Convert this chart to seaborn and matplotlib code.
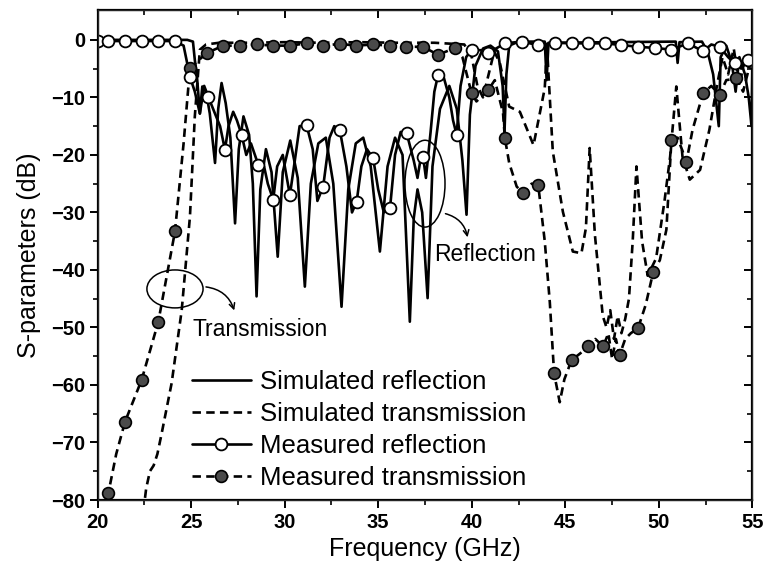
import matplotlib
matplotlib.use("Agg")
import matplotlib.pyplot as plt
from matplotlib.lines import Line2D
from matplotlib.patches import Ellipse
import seaborn as sns
import numpy as np

# ---------------- data ----------------
sim_refl_f = [20.0, 24.8, 25.1, 25.2, 25.3, 25.47, 25.6, 25.8, 26.0, 26.28, 26.45, 26.63, 26.85,
              27.1, 27.35, 27.55, 27.8, 28.1, 28.3, 28.5, 28.7, 29.0, 29.3, 29.63, 29.9, 30.3,
              30.7, 31.08, 31.4, 31.8, 32.2, 32.6, 33.04, 33.4, 33.8, 34.2, 34.6, 35.09, 35.5,
              35.9, 36.3, 36.69, 36.9, 37.1, 37.35, 37.64, 37.9, 38.3, 38.8, 39.2, 39.5, 39.72,
              39.9, 40.2, 40.6, 41.0, 41.4, 41.65, 41.75, 41.85, 42.0, 42.5, 43.9, 44.0, 44.1,
              50.9, 51.0, 51.1, 52.3, 52.6, 52.9, 53.2, 53.3, 53.6, 53.9, 54.1, 54.3, 54.6, 54.8,
              54.95, 55.0]
sim_refl_db = [0.0, 0.0, -0.3, -3.5, -5.8, -12.8, -8.1, -9.0, -12.8, -21.4, -12.0, -7.5, -11.0,
               -17.0, -31.9, -19.0, -13.3, -16.5, -25.0, -44.6, -26.0, -19.0, -23.0, -37.7, -23.0,
               -17.5, -24.0, -42.9, -25.0, -18.0, -17.0, -25.0, -46.4, -26.0, -18.0, -17.0, -22.0,
               -36.8, -22.0, -17.0, -20.0, -49.0, -31.0, -26.0, -30.0, -44.9, -22.0, -12.0, -8.0,
               -12.0, -21.0, -30.4, -13.0, -4.5, -1.5, -1.0, -2.0, -8.0, -16.0, -6.0, -1.0, -0.3,
               -0.3, -7.0, -0.5, -0.3, -4.0, -0.4, -0.3, -2.0, -6.0, -15.0, -3.0, -1.0, -4.0, -9.0,
               -3.0, -6.0, -10.0, -15.0, -4.0]

sim_tran_f = [22.45, 22.6, 22.8, 23.0, 23.2, 23.43, 23.96, 24.5, 24.94, 25.2, 25.47, 25.8, 26.5,
              28.0, 30.0, 32.0, 34.0, 36.0, 38.0, 39.6, 40.0, 40.3, 40.6, 40.9, 41.2, 41.5, 42.0,
              42.57, 43.3, 43.9, 44.02, 44.1, 44.33, 44.87, 45.4, 45.86, 46.1, 46.3, 46.58, 46.84,
              47.0, 47.2, 47.4, 47.6, 47.8, 48.0, 48.2, 48.4, 48.6, 48.8, 49.1, 49.4, 49.85, 50.3,
              50.6, 50.93, 51.26, 51.65, 52.2, 52.7, 53.1, 53.4, 53.7, 54.0, 54.3, 54.6, 55.0]
sim_tran_db = [-82.0, -78.0, -75.0, -74.0, -72.0, -68.4, -59.7, -47.0, -30.7, -13.3, -1.7, -0.8,
               -0.5, -0.5, -0.4, -0.5, -0.4, -0.5, -0.5, -0.8, -3.0, -8.0, -10.0, -6.0, -2.0, -4.0,
               -11.6, -12.5, -18.3, -8.4, -1.0, -6.0, -19.4, -29.9, -36.8, -37.1, -32.7, -18.8,
               -33.9, -42.6, -48.0, -50.0, -47.0, -52.0, -48.0, -51.0, -48.5, -45.0, -35.0, -22.0,
               -35.0, -41.0, -38.0, -28.0, -20.3, -8.1, -20.3, -24.3, -22.6, -15.6, -8.0, -3.0,
               -6.0, -1.5, -8.0, -3.0, -5.0]

meas_refl_f = [20.0, 20.56, 21.47, 22.38, 23.23, 24.14, 24.6, 24.94, 25.2, 25.47, 25.7, 25.92,
               26.3, 26.55, 26.81, 27.0, 27.25, 27.45, 27.7, 27.95, 28.2, 28.59, 28.9, 29.1, 29.39,
               29.6, 29.9, 30.28, 30.5, 30.8, 31.17, 31.5, 31.75, 32.06, 32.4, 32.65, 32.95, 33.3,
               33.6, 33.85, 34.1, 34.4, 34.73, 35.0, 35.3, 35.63, 35.9, 36.2, 36.52, 36.9, 37.1,
               37.25, 37.4, 37.55, 37.8, 38.0, 38.2, 38.5, 38.8, 39.0, 39.19, 39.4, 39.7, 39.99,
               40.5, 40.88, 41.3, 41.77, 42.66, 43.55, 44.44, 45.33, 46.22, 47.11, 48.0, 48.89,
               49.78, 50.67, 51.56, 52.36, 52.8, 53.25, 53.7, 54.05, 54.4, 54.75, 55.0]
meas_refl_db = [-0.2, -0.2, -0.2, -0.2, -0.2, -0.2, -1.0, -6.4, -9.0, -12.8, -8.0, -9.9,
                -13.0, -15.0, -19.1, -15.0, -12.5, -14.0, -16.5, -20.0, -18.0, -21.7, -22.0, -25.0,
                -27.8, -22.0, -20.0, -27.0, -22.0, -15.0, -14.8, -19.0, -28.0, -25.5, -17.0, -15.0,
                -15.7, -22.0, -30.0, -28.1, -22.0, -19.0, -20.6, -26.0, -30.0, -29.3, -20.0, -16.0,
                -16.2, -21.0, -24.0, -21.0, -20.3, -24.0, -16.0, -9.0, -6.1, -6.5, -10.0, -14.0,
                -16.5, -8.0, -3.0, -1.7, -1.8, -2.3, -1.5, -0.6, -0.3, -0.9, -0.5, -0.6, -0.6,
                -0.6, -0.9, -1.2, -1.4, -1.7, -0.6, -2.0, -0.8, -1.2, -3.0, -4.1, -5.0, -3.5, -4.5]
meas_refl_mk_f = [20.0, 20.56, 21.47, 22.38, 23.23, 24.14, 24.94, 25.92, 26.81, 27.7, 28.59,
                  29.39, 30.28, 31.17, 32.06, 32.95, 33.85, 34.73, 35.63, 36.52, 37.4, 38.2,
                  39.19, 39.99, 40.88, 41.77, 42.66, 43.55, 44.44, 45.33, 46.22, 47.11, 48.0,
                  48.89, 49.78, 50.67, 51.56, 52.36, 53.25, 54.05, 54.75]
meas_refl_mk_db = [-0.2, -0.2, -0.2, -0.2, -0.2, -0.2, -6.4, -9.9, -19.1, -16.5, -21.7, -27.8,
                   -27.0, -14.8, -25.5, -15.7, -28.1, -20.6, -29.3, -16.2, -20.3, -6.1, -16.5,
                   -1.7, -2.3, -0.6, -0.3, -0.9, -0.5, -0.6, -0.6, -0.6, -0.9, -1.2, -1.4, -1.7,
                   -0.6, -2.0, -1.2, -4.1, -3.5]

meas_tran_f = [20.45, 20.58, 21.0, 21.47, 22.36, 23.25, 24.14, 24.6, 24.94, 25.83, 26.72, 27.61,
               28.5, 29.39, 30.28, 31.17, 32.06, 32.95, 33.84, 34.73, 35.62, 36.51, 37.4, 38.2,
               39.1, 39.5, 39.99, 40.25, 40.88, 41.23, 41.67, 41.77, 42.0, 42.4, 42.75, 43.2,
               43.55, 43.9, 44.17, 44.4, 44.7, 44.95, 45.33, 45.8, 46.22, 46.6, 47.02, 47.3,
               47.5, 47.7, 47.9, 48.2, 48.5, 48.89, 49.3, 49.7, 50.05, 50.4, 50.67, 51.0, 51.47,
               51.8, 52.36, 52.8, 53.25, 53.6, 54.14, 54.5, 54.9, 55.0]
meas_tran_db = [-82.0, -78.8, -72.0, -66.4, -59.1, -49.0, -33.3, -18.0, -4.9, -2.3, -1.0,
                -1.0, -0.8, -1.0, -1.0, -0.6, -1.0, -0.7, -1.0, -0.8, -1.0, -1.2, -1.2, -2.6,
                -1.4, -3.0, -9.3, -10.7, -8.7, -7.0, -12.7, -17.1, -21.4, -25.5, -26.7, -25.0,
                -25.2, -35.0, -45.6, -58.0, -63.0, -59.0, -55.7, -54.5, -53.3, -52.0, -53.3,
                -51.0, -55.5, -52.0, -54.8, -52.0, -51.0, -50.1, -46.0, -40.3, -38.3, -33.0,
                -17.4, -17.0, -21.2, -15.6, -9.3, -8.0, -9.6, -7.0, -6.7, -9.0, -3.8, -3.5]
meas_tran_mk_f = [20.58, 21.47, 22.36, 23.25, 24.14, 24.94, 25.83, 26.72, 27.61, 28.5, 29.39,
                  30.28, 31.17, 32.06, 32.95, 33.84, 34.73, 35.62, 36.51, 37.4, 38.2, 39.1,
                  39.99, 40.88, 41.77, 42.75, 43.55, 44.4, 45.33, 46.22, 47.02, 47.9, 48.89,
                  49.7, 50.67, 51.47, 52.36, 53.25, 54.14, 54.9]
meas_tran_mk_db = [-78.8, -66.4, -59.1, -49.0, -33.3, -4.9, -2.3, -1.0, -1.0, -0.8, -1.0, -1.0,
                   -0.6, -1.0, -0.7, -1.0, -0.8, -1.0, -1.2, -1.2, -2.6, -1.4, -9.3, -8.7, -17.1,
                   -26.7, -25.2, -58.0, -55.7, -53.3, -53.3, -54.8, -50.1, -40.3, -17.4, -21.2,
                   -9.3, -9.6, -6.7, -3.8]

legend_labels = ["Simulated reflection", "Simulated transmission",
                 "Measured reflection", "Measured transmission"]
x_ticks = [20, 25, 30, 35, 40, 45, 50, 55]
y_ticks = [0, -10, -20, -30, -40, -50, -60, -70, -80]

# ---------------- style ----------------
sns.set_style("white")
plt.rcParams["font.family"] = ["Liberation Sans", "DejaVu Sans"]
plt.rcParams["text.color"] = "black"
plt.rcParams["axes.labelcolor"] = "black"
plt.rcParams["xtick.color"] = "black"
plt.rcParams["ytick.color"] = "black"

fig = plt.figure(figsize=(7.69, 5.70), dpi=100)
ax = fig.add_axes([0.1268, 0.1228, 0.8517, 0.8597])

LW = 1.9
DASH = (0, (3.2, 2.0))

sns.lineplot(x=sim_tran_f, y=sim_tran_db, ax=ax, color="black", lw=LW, linestyle=DASH,
             estimator=None, sort=False, zorder=2)
sns.lineplot(x=meas_tran_f, y=meas_tran_db, ax=ax, color="black", lw=LW, linestyle=DASH,
             estimator=None, sort=False, zorder=3)
sns.lineplot(x=sim_refl_f, y=sim_refl_db, ax=ax, color="black", lw=LW, linestyle="-",
             estimator=None, sort=False, zorder=4)
sns.lineplot(x=meas_refl_f, y=meas_refl_db, ax=ax, color="black", lw=LW, linestyle="-",
             estimator=None, sort=False, zorder=5)
sns.scatterplot(x=meas_tran_mk_f, y=meas_tran_mk_db, ax=ax, marker="o", s=72,
                facecolor="#4a4a4a", edgecolor="black", linewidth=1.2, zorder=6)
sns.scatterplot(x=meas_refl_mk_f, y=meas_refl_mk_db, ax=ax, marker="o", s=72,
                facecolor="white", edgecolor="black", linewidth=1.3, zorder=7)

ax.set_xlim(20, 55)
ax.set_ylim(-80, 5.2)
ax.set_xticks(x_ticks)
ax.set_yticks(y_ticks)
ax.set_xticks(np.arange(22.5, 55, 5), minor=True)
ax.set_yticks(np.arange(-75, 5, 10), minor=True)
ax.tick_params(which="major", direction="out", length=6, width=1.4, labelsize=14.5, pad=3)
ax.tick_params(which="minor", direction="out", length=3.5, width=1.2)
for lab in ax.get_xticklabels() + ax.get_yticklabels():
    lab.set_fontweight("bold")
for sp in ax.spines.values():
    sp.set_linewidth(1.6)
    sp.set_color("black")

# mirrored inner ticks on top and right
axt = ax.twiny()
axt.set_xlim(ax.get_xlim())
axt.set_xticks(x_ticks)
axt.set_xticks(np.arange(22.5, 55, 5), minor=True)
axt.tick_params(which="major", direction="in", length=6, width=1.4, labeltop=False)
axt.tick_params(which="minor", direction="in", length=3.5, width=1.2)
axr = ax.twinx()
axr.set_ylim(ax.get_ylim())
axr.set_yticks(y_ticks)
axr.set_yticks(np.arange(-75, 5, 10), minor=True)
axr.tick_params(which="major", direction="in", length=6, width=1.4, labelright=False)
axr.tick_params(which="minor", direction="in", length=3.5, width=1.2)
axt.grid(False); axr.grid(False)

ax.set_xlabel("Frequency (GHz)", fontsize=18, labelpad=4)
ax.set_ylabel("S-parameters (dB)", fontsize=18, labelpad=7)

# annotations
ax.add_patch(Ellipse((24.14, -43.3), 3.0, 6.6, fill=False, lw=1.1, color="black", zorder=8))
ax.annotate("", xy=(27.35, -47.5), xytext=(25.65, -42.9),
            arrowprops=dict(arrowstyle="->", lw=1.1, color="black",
                            connectionstyle="arc3,rad=-0.35"))
ax.text(25.1, -50.4, "Transmission", fontsize=16.5, va="center", ha="left")

ax.add_patch(Ellipse((37.5, -25.0), 2.14, 15.1, fill=False, lw=1.1, color="black", zorder=8))
ax.annotate("", xy=(39.8, -34.8), xytext=(38.45, -30.1),
            arrowprops=dict(arrowstyle="->", lw=1.1, color="black",
                            connectionstyle="arc3,rad=-0.35"))
ax.text(38.0, -37.4, "Reflection", fontsize=16.5, va="center", ha="left")

handles = [
    Line2D([], [], color="black", lw=LW, linestyle="-"),
    Line2D([], [], color="black", lw=LW, linestyle=DASH),
    Line2D([], [], color="black", lw=LW, linestyle="-", marker="o", markersize=8.5,
           markerfacecolor="white", markeredgecolor="black", markeredgewidth=1.3),
    Line2D([], [], color="black", lw=LW, linestyle=DASH, marker="o", markersize=8.5,
           markerfacecolor="#4a4a4a", markeredgecolor="black", markeredgewidth=1.2),
]
leg = ax.legend(handles, legend_labels, loc="lower left", bbox_to_anchor=(0.128, 0.0),
                frameon=False, fontsize=18.5, handlelength=2.3, handletextpad=0.35,
                labelspacing=0.31, borderaxespad=0.0)
leg.set_zorder(9)

fig.savefig("out.png", dpi=100)
